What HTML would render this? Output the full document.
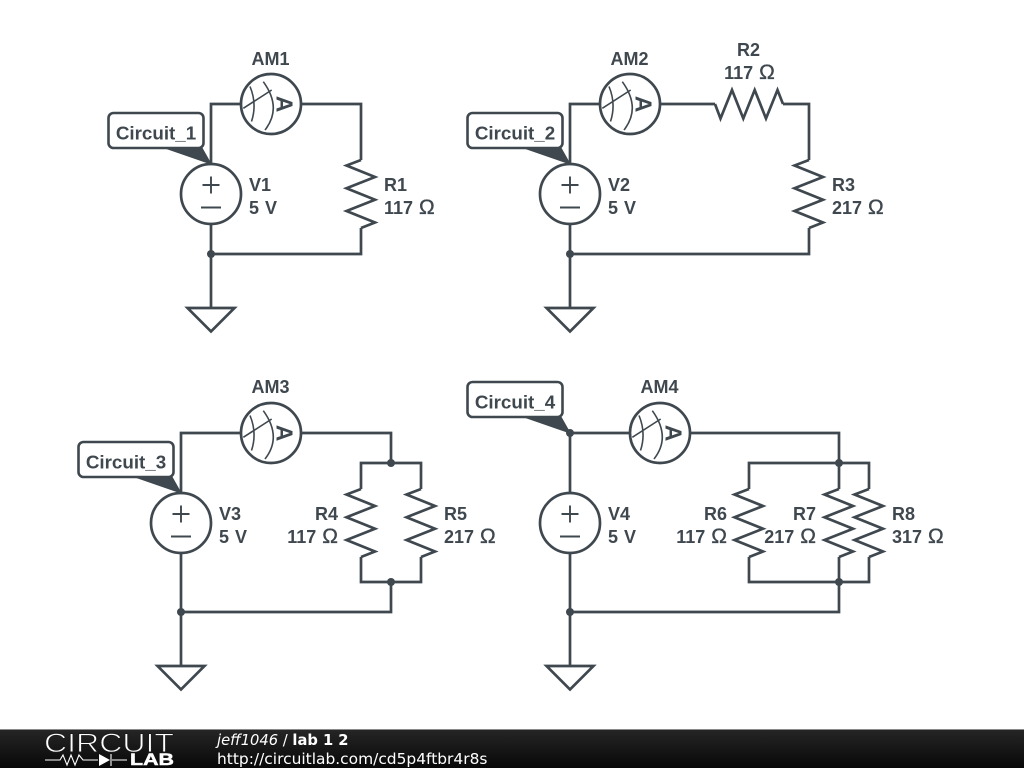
<!DOCTYPE html>
<html>
<head>
<meta charset="utf-8">
<style>
html,body{margin:0;padding:0;background:#fff;width:1024px;height:768px;overflow:hidden}
svg{display:block}
.w{fill:none;stroke:#3f484f;stroke-width:2.7;stroke-linejoin:miter}
.t{font-family:"Liberation Sans",sans-serif;font-weight:bold;font-size:18px;fill:#3f484f;word-spacing:1px}
.c{font-size:18.800px}
.o{font-size:21px;font-weight:normal;stroke:#3f484f;stroke-width:.35}
.m{text-anchor:middle}
.e{text-anchor:end}
.f{font-family:"DejaVu Sans",sans-serif;fill:#fff}
</style>
</head>
<body>
<svg width="1024" height="768" viewBox="0 0 1024 768" xmlns="http://www.w3.org/2000/svg">
<defs>
<linearGradient id="g" x1="0" y1="0" x2="0" y2="1"><stop offset="0" stop-color="#262626"/><stop offset="1" stop-color="#080808"/></linearGradient>
<g id="am">
<circle cx="0" cy="0" r="30" fill="#fff" stroke="#3f484f" stroke-width="2.7"/>
<path d="M-21 -17.500Q-13.700 0 -19.500 17.500M-7.700 -22.300Q11.400 4 -6 26M-27.700 4.300L.7 -14" fill="none" stroke="#3f484f" stroke-width="1.600"/>
<text x="0" y="0" transform="translate(5.500,0) rotate(90)" class="t m" style="font-size:23px">A</text>
</g>
<g id="v">
<circle cx="0" cy="0" r="30" fill="#fff" stroke="#3f484f" stroke-width="2.7"/>
<path d="M-8.500 -9H8.500M0 -17.500V-.5M-10 13.500H10" fill="none" stroke="#3f484f" stroke-width="1.900"/>
</g>
<path id="rv" class="w" d="M0 -34L-14.500 -28.500L14 -17L-14.500 -5.700L14 5.700L-14.500 17L14 28.500L0 34"/>
<path id="rh" class="w" d="M-34 0L-28.500 14.500L-17 -14L-5.700 14.500L5.700 -14L17 14.500L28.500 -14L34 0"/>
<path id="gnd" class="w" d="M0 0H23.500L0 23.500L-23.500 0Z"/>
<circle id="n" r="4" fill="#3f484f"/>
<g id="lb">
<path d="M56.500 35H93.500L102.500 51Z" fill="#3f484f" stroke="#3f484f" stroke-width="1"/>
<rect x="0" y="0" width="95" height="35" rx="5" ry="5" fill="#fff" stroke="#3f484f" stroke-width="2.600"/>
</g>
</defs>

<!-- circuit 1 -->
<path class="w" d="M211 164V104H361V160M361 228V254H211M211 224V308"/>
<use href="#am" x="271" y="104"/>
<use href="#v" x="211" y="194"/>
<use href="#rv" x="361" y="194"/>
<use href="#n" x="211" y="254"/>
<use href="#gnd" x="211" y="308"/>
<use href="#lb" x="108.500" y="113"/>
<text class="t c m" x="156" y="139.500">Circuit_1</text>
<text class="t m" x="270.500" y="65">AM1</text>
<text class="t" x="249" y="191">V1</text>
<text class="t" x="249" y="214">5 V</text>
<text class="t" x="384" y="191">R1</text>
<text class="t" x="384" y="214">117 <tspan class="o">Ω</tspan></text>

<!-- circuit 2 -->
<path class="w" d="M570 164V104H715M783 104H809V160M809 228V254H570M570 224V308"/>
<use href="#am" x="630" y="104"/>
<use href="#rh" x="749" y="104"/>
<use href="#v" x="570" y="194"/>
<use href="#rv" x="809" y="194"/>
<use href="#n" x="570" y="254"/>
<use href="#gnd" x="570" y="308"/>
<use href="#lb" x="467.500" y="113"/>
<text class="t c m" x="515" y="139.500">Circuit_2</text>
<text class="t m" x="629.500" y="65">AM2</text>
<text class="t m" x="748.500" y="56">R2</text>
<text class="t m" x="749.500" y="79">117 <tspan class="o">Ω</tspan></text>
<text class="t" x="608" y="191">V2</text>
<text class="t" x="608" y="214">5 V</text>
<text class="t" x="832" y="191">R3</text>
<text class="t" x="832" y="214">217 <tspan class="o">Ω</tspan></text>

<!-- circuit 3 -->
<path class="w" d="M181 493V433H391V463M361 489V463H421V489M361 557V582H421V557M391 582V612H181M181 553V666"/>
<use href="#am" x="271" y="433"/>
<use href="#v" x="181" y="523"/>
<use href="#rv" x="361" y="523"/>
<use href="#rv" x="421" y="523"/>
<use href="#n" x="391" y="463"/>
<use href="#n" x="391" y="582"/>
<use href="#n" x="181" y="612"/>
<use href="#gnd" x="181" y="666"/>
<use href="#lb" x="78.500" y="442"/>
<text class="t c m" x="126" y="468.500">Circuit_3</text>
<text class="t m" x="270.500" y="393">AM3</text>
<text class="t" x="219" y="520">V3</text>
<text class="t" x="219" y="543">5 V</text>
<text class="t e" x="338" y="520">R4</text>
<text class="t e" x="338" y="543">117 <tspan class="o">Ω</tspan></text>
<text class="t" x="444" y="520">R5</text>
<text class="t" x="444" y="543">217 <tspan class="o">Ω</tspan></text>

<!-- circuit 4 -->
<path class="w" d="M570 493V433H839V489M749 489V463H869V489M749 557V582H869V557M839 557V612H570M570 553V666"/>
<use href="#am" x="660" y="433"/>
<use href="#v" x="570" y="523"/>
<use href="#rv" x="749" y="523"/>
<use href="#rv" x="839" y="523"/>
<use href="#rv" x="869" y="523"/>
<use href="#n" x="839" y="463"/>
<use href="#n" x="839" y="582"/>
<use href="#n" x="570" y="433"/>
<use href="#n" x="570" y="612"/>
<use href="#gnd" x="570" y="666"/>
<use href="#lb" x="467.500" y="382"/>
<text class="t c m" x="515" y="408.500">Circuit_4</text>
<text class="t m" x="659.500" y="393">AM4</text>
<text class="t" x="608" y="520">V4</text>
<text class="t" x="608" y="543">5 V</text>
<text class="t e" x="727" y="520">R6</text>
<text class="t e" x="727" y="543">117 <tspan class="o">Ω</tspan></text>
<text class="t e" x="816" y="520">R7</text>
<text class="t e" x="816" y="543">217 <tspan class="o">Ω</tspan></text>
<text class="t" x="892" y="520">R8</text>
<text class="t" x="892" y="543">317 <tspan class="o">Ω</tspan></text>

<!-- footer -->
<rect x="0" y="729" width="1024" height="39" fill="url(#g)"/>
<rect x="0" y="729" width="1024" height="1" fill="#8a8a8a"/>
<text x="44" y="752" textLength="130" lengthAdjust="spacingAndGlyphs" style="font-family:'Liberation Sans',sans-serif;font-size:27px;fill:#fff;stroke:#1c1c1c;stroke-width:.9">CIRCUIT</text>
<path d="M45 760H60L63 755L67 765L71 755L75 765L79 755L83 760H98M127 760H112M111 754V766" fill="none" stroke="#fff" stroke-width="1.100"/>
<path d="M99 754L110 760L99 766Z" fill="#fff"/>
<text x="130" y="765" textLength="44" lengthAdjust="spacingAndGlyphs" style="font-family:'Liberation Sans',sans-serif;font-weight:bold;font-size:17px;fill:#fff;stroke:#fff;stroke-width:.5">LAB</text>
<text class="f" x="217" y="745" style="font-size:14.700px"><tspan font-style="italic">jeff1046</tspan> / <tspan font-weight="bold">lab 1 2</tspan></text>
<text class="f" x="217" y="764" style="font-size:15.450px">http://circuitlab.com/cd5p4ftbr4r8s</text>
</svg>
</body>
</html>
